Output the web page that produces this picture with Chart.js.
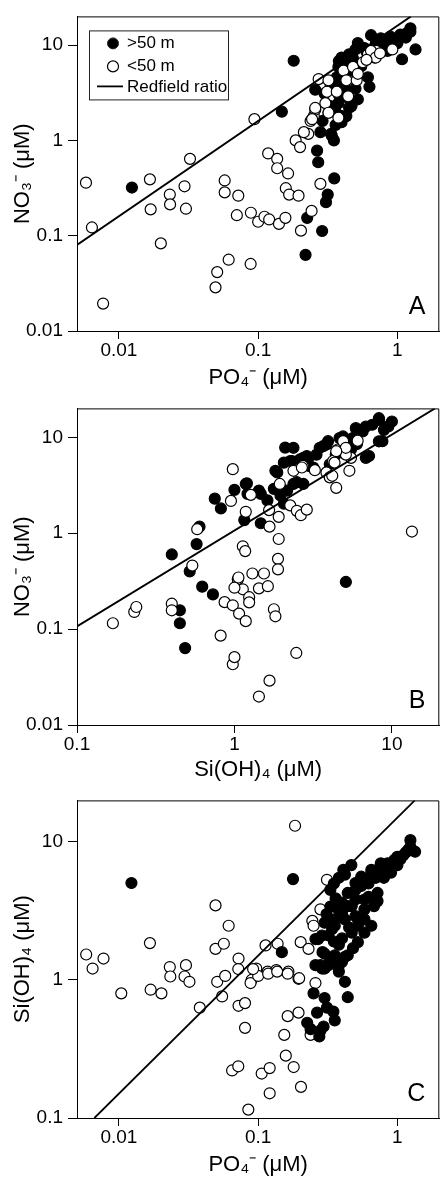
<!DOCTYPE html>
<html>
<head>
<meta charset="utf-8">
<script src="https://cdn.jsdelivr.net/npm/chart.js@4.4.1/dist/chart.umd.min.js"></script>
<style>
html,body{margin:0;padding:0;background:#fff;overflow:hidden;}
#wrap{position:relative;width:441px;height:1178px;overflow:hidden;}
canvas{position:absolute;left:0;}
</style>
</head>
<body>
<div id="wrap">
<canvas id="chartA" width="446" height="392" style="top:0px"></canvas>
<canvas id="chartB" width="446" height="392" style="top:392px"></canvas>
<canvas id="chartC" width="446" height="394" style="top:784px"></canvas>
</div>
<script>
// ---- data: [x, y] pairs ----
// A: PO4 vs NO3
var aDeep = [[0.0124,0.32],[0.148,2.0],[0.18,6.85],[0.257,3.4],[0.265,0.78],[0.27,0.59],[0.338,1.12],[0.352,0.40],
  [0.225,0.154],[0.219,0.063],[0.288,0.112],[0.307,0.225],[0.316,0.27],[0.334,1.17],[0.28,1.22],[0.32,1.95],
  [0.3,3.1],[0.33,2.29],[0.377,2.46],[0.36,1.45],[0.40,1.8],[0.43,1.8],[0.397,1.55],[0.45,2.2],[0.468,2.29],
  [0.52,2.7],[0.5,3.5],[0.63,3.65],[0.357,3.97],[0.34,4.2],[0.367,4.6],[0.614,4.6],[0.42,5.0],[0.377,5.9],
  [0.55,6.0],[0.4,6.5],[0.455,6.6],[0.397,7.4],[0.684,7.4],[0.45,8.0],[0.6,8.5],[0.85,8.7],[0.5,9.0],[0.58,9.3],
  [0.8,10],[0.52,10.5],[0.7,10.5],[0.95,11],[0.76,11.8],[1.15,12],[0.89,12.3],[0.647,12.7],[1.05,12.9],
  [1.17,13.4],[1.24,13.8],[1.24,15],[1.08,7.1],[1.35,9.0],[0.43,3.3],[0.9,9.5],[1.0,10.5],[0.38,6.8],[0.48,7.2],
  [0.36,2.0],[0.38,3.0],[0.41,3.6],[0.46,4.6],[0.35,1.0],[0.29,1.6],[0.33,3.6],[0.44,2.8]];
var aShallow = [[0.0058,0.36],[0.0064,0.122],[0.0077,0.0194],[0.0167,0.39],[0.0169,0.189],[0.02,0.083],[0.0232,0.27],
  [0.0233,0.213],[0.0296,0.33],[0.0303,0.192],[0.0324,0.64],[0.0494,0.0287],[0.0508,0.0415],[0.0575,0.38],
  [0.0575,0.285],[0.0614,0.056],[0.072,0.263],[0.0703,0.164],[0.0883,0.0505],[0.0887,0.174],[0.094,1.67],
  [0.1,0.14],[0.111,0.158],[0.12,0.148],[0.118,0.73],[0.137,0.64],[0.137,0.51],[0.141,0.133],[0.157,0.154],
  [0.158,0.315],[0.164,0.45],[0.167,0.27],[0.186,1.0],[0.195,0.263],[0.2,0.85],[0.203,0.113],[0.229,1.17],
  [0.238,1.6],[0.242,0.182],[0.251,1.8],[0.257,2.1],[0.28,0.35],[0.272,4.4],[0.304,2.46],[0.32,1.95],
  [0.312,3.24],[0.377,1.73],[0.41,5.4],[0.443,4.27],[0.443,2.9],[0.48,5.9],[0.565,6.6],[0.614,7.95],
  [0.703,8.7],[0.92,9.0],[0.684,7.95],[0.646,8.7],[0.7,7.4],[0.43,4.27],[0.51,4.27],[0.367,3.24],[0.32,4.27],
  [0.257,2.19],[0.244,1.67],[0.213,1.22],[0.52,5.0],[0.6,7.0],[0.75,8.2]];

// B: Si(OH)4 vs NO3
var bDeep = [[0.40,0.6],[0.575,0.77],[0.52,0.40],[0.6,1.17],[0.75,2.29],[0.82,1.81],[1.0,2.83],[1.2,3.31],
  [1.18,3.26],[1.155,1.37],[1.47,1.27],[1.47,2.57],[1.21,2.57],[1.43,2.78],[1.62,2.2],[1.78,2.9],[1.96,2.47],
  [2.06,2.03],[2.16,2.78],[2.37,3.26],[2.49,3.4],[2.74,3.26],[1.82,4.47],[1.87,4.3],[2.06,5.44],[2.26,5.66],
  [2.32,5.66],[2.61,5.9],[2.95,6.13],[2.74,6.1],[2.88,6.37],[3.17,4.84],[3.32,6.6],[2.1,7.8],[2.37,7.77],
  [3.48,7.77],[3.66,8.07],[3.84,8.4],[3.93,9.1],[4.03,5.23],[4.65,9.8],[4.89,10.2],[5.64,9.8],[5.9,12.45],
  [6.52,11.5],[6.83,12.9],[6.83,6.1],[7.16,6.37],[7.5,13.5],[8.27,15.8],[8.3,15.2],[8.27,9.08],[8.7,9.1],
  [8.9,11.95],[10,14.6],[5.1,0.31],[0.624,0.277],[0.73,0.23],[0.45,0.157],[0.45,0.115],[0.486,0.0634],
  [4.4,6.6],[5.5,7.5],[6.0,8.5],[9.5,13.0],[3.0,5.0]];
var bShallow = [[0.169,0.115],[0.231,0.151],[0.238,0.17],[0.40,0.184],[0.40,0.157],[0.54,0.46],[0.58,1.1],
  [0.817,0.0855],[0.866,0.191],[0.976,0.177],[1.07,0.145],[1.18,0.121],[0.976,0.043],[1.0,0.051],[1.05,0.33],
  [1.13,0.26],[1.0,0.27],[1.24,0.215],[1.24,0.19],[1.43,0.266],[1.3,0.38],[1.54,0.38],[1.63,0.28],[1.78,0.161],
  [1.82,0.136],[2.47,0.0564],[1.67,0.029],[1.43,0.0198],[1.06,0.345],[1.13,0.73],[1.17,0.65],[1.89,0.54],
  [1.89,0.42],[1.91,0.87],[1.67,1.17],[1.66,1.74],[1.91,1.48],[2.26,1.95],[2.49,1.71],[2.64,1.54],[2.88,1.76],
  [0.976,4.65],[0.95,2.17],[1.27,2.51],[1.18,1.67],[1.94,3.26],[2.37,4.47],[2.72,5.03],[2.68,4.84],[3.24,4.54],
  [3.84,4.3],[4.03,3.82],[4.43,2.97],[4.18,3.97],[4.23,5.66],[4.54,7.46],[5.37,4.47],[5.5,6.1],[6.06,9.2],
  [4.9,9.1],[5.1,6.6],[5.1,7.77],[4.43,7.16],[4.32,5.44],[13.4,1.04]];

// C: PO4 vs Si(OH)4
var cDeep = [[0.0123,5.04],[0.178,5.38],[0.148,1.59],[0.409,6.27],[0.467,6.8],[1.24,10.3],[1.34,8.5],[1.24,9.2],
  [1.2,8.8],[1.1,8.0],[0.998,7.8],[0.95,7.4],[1.0,6.8],[0.85,7.0],[0.76,7.0],[0.74,6.45],[0.65,6.27],[0.65,5.94],
  [0.9,6.0],[0.8,5.5],[0.55,5.6],[0.58,5.3],[0.5,5.04],[0.44,4.27],[0.72,4.27],[0.4,3.63],[0.72,3.73],[0.5,3.83],
  [0.58,3.83],[0.44,3.43],[0.47,3.43],[0.68,3.43],[0.377,3.25],[0.58,3.25],[0.4,3.07],[0.355,2.75],[0.42,2.75],
  [0.52,2.75],[0.58,2.75],[0.355,2.47],[0.52,2.47],[0.65,2.47],[0.34,2.34],[0.47,2.2],[0.58,2.2],[0.287,2.1],
  [0.32,2.1],[0.258,1.98],[0.27,1.98],[0.52,1.88],[0.29,1.59],[0.3,1.55],[0.355,1.51],[0.44,1.51],[0.42,1.47],
  [0.34,1.43],[0.258,1.28],[0.28,1.28],[0.32,1.28],[0.32,1.31],[0.377,1.24],[0.4,1.35],[0.288,1.21],[0.3,1.21],
  [0.38,1.15],[0.42,0.97],[0.25,0.80],[0.44,0.75],[0.3,0.74],[0.265,0.58],[0.312,0.63],[0.347,0.59],
  [0.355,0.51],[0.225,0.49],[0.238,0.44],[0.28,0.43],[0.295,0.46],[0.275,0.39],
  [0.33,4.5],[0.35,5.0],[0.38,5.5],[0.42,5.8],[0.36,3.9],[0.3,2.6],[0.31,3.0],[0.33,3.4],[0.5,4.5],[0.55,4.8],
  [0.62,5.0],[0.7,5.5],[0.78,6.2],[0.88,6.6],[1.05,7.5],[1.15,8.4],[0.62,4.0],[0.5,2.9],[0.45,2.4],[0.38,1.8],
  [0.35,1.9],[0.48,1.7],[0.4,2.0]];
var cShallow = [[0.184,13.1],[0.312,5.32],[0.0494,3.47],[0.0614,2.47],[0.0494,1.68],[0.0567,1.83],[0.0167,1.85],
  [0.00582,1.53],[0.00775,1.43],[0.00647,1.21],[0.0232,1.24],[0.0303,1.28],[0.0723,1.43],[0.113,1.78],[0.138,1.83],
  [0.28,3.25],[0.245,2.68],[0.25,2.47],[0.202,1.88],[0.23,1.68],[0.097,1.21],[0.117,1.15],[0.135,1.18],[0.165,1.15],
  [0.0104,0.80],[0.0169,0.85],[0.0202,0.80],[0.0234,1.06],[0.0296,1.06],[0.0321,0.97],[0.0381,0.63],[0.0508,0.97],
  [0.058,1.07],[0.0551,0.76],[0.0897,1.0],[0.0882,0.95],[0.1,1.07],[0.118,1.11],[0.137,1.15],[0.163,1.11],
  [0.195,1.02],[0.0723,0.65],[0.0805,0.68],[0.0805,0.45],[0.163,0.547],[0.195,0.58],[0.154,0.40],[0.158,0.283],
  [0.18,0.234],[0.065,0.221],[0.072,0.237],[0.106,0.21],[0.121,0.23],[0.121,0.151],[0.203,0.168],[0.085,0.115],
  [0.258,0.95],[0.238,0.40],[0.197,1.03],[0.072,1.2],[0.092,1.2]];

// Redfield ratios
var ratioNP = 16;      // N:P
var ratioNSi = 16/15;  // N:Si
var ratioSiP = 15;     // Si:P

var ticksPO4 = [0.01, 0.1, 1];
var ticksSi = [0.1, 1, 10];
var ticksNO3 = [0.01, 0.1, 1, 10];
var ticksSiY = [0.1, 1, 10];

var legendLabels = ['>50 m', '<50 m', 'Redfield ratio'];

var FONT = '"Liberation Sans", Arial, Helvetica, sans-serif';

function toPts(arr) {
  return arr.map(function (p) { return {x: p[0], y: p[1]}; });
}

// line y = r*x clipped to the axis box
function ratioLine(r, xmin, xmax, ymin, ymax) {
  var x0 = Math.max(xmin, ymin / r), x1 = Math.min(xmax, ymax / r);
  return [{x: x0, y: r * x0}, {x: x1, y: r * x1}];
}

var framePlugin = {
  id: 'frame',
  afterDraw: function (chart) {
    var a = chart.chartArea, ctx = chart.ctx;
    ctx.save();
    ctx.strokeStyle = '#000';
    ctx.lineWidth = 1;
    ctx.beginPath();
    ctx.moveTo(a.left, a.top + 0.5);
    ctx.lineTo(a.right - 0.5, a.top + 0.5);
    ctx.lineTo(a.right - 0.5, a.bottom);
    ctx.stroke();
    ctx.font = '25px ' + FONT;
    ctx.fillStyle = '#000';
    ctx.textAlign = 'right';
    ctx.textBaseline = 'alphabetic';
    ctx.fillText(chart.options.plugins.frame.letter, a.right - 14, a.bottom - 17);
    ctx.restore();
  }
};

var boxLegend = {
  id: 'boxLegend',
  afterDraw: function (chart) {
    if (!chart.options.plugins.boxLegend.show) return;
    var a = chart.chartArea, ctx = chart.ctx;
    var x = a.left + 12, y = a.top + 14;
    ctx.save();
    ctx.strokeStyle = '#222';
    ctx.lineWidth = 1;
    ctx.strokeRect(x + 0.5, y + 0.5, 139, 69);
    ctx.font = '17px ' + FONT;
    ctx.fillStyle = '#000';
    ctx.textBaseline = 'middle';
    ctx.textAlign = 'left';
    // >50 m
    ctx.beginPath(); ctx.arc(x + 24, y + 13, 5.5, 0, Math.PI * 2);
    ctx.fillStyle = '#000'; ctx.fill(); ctx.stroke();
    ctx.fillText(legendLabels[0], x + 38, y + 13);
    // <50 m
    ctx.beginPath(); ctx.arc(x + 24, y + 36, 5.5, 0, Math.PI * 2);
    ctx.fillStyle = '#fff'; ctx.fill(); ctx.strokeStyle = '#000'; ctx.lineWidth = 1.2; ctx.stroke();
    ctx.fillStyle = '#000';
    ctx.fillText(legendLabels[1], x + 38, y + 36);
    // line
    ctx.lineWidth = 1.8;
    ctx.beginPath(); ctx.moveTo(x + 8, y + 56); ctx.lineTo(x + 34, y + 56); ctx.stroke();
    ctx.fillText(legendLabels[2], x + 38, y + 57);
    ctx.restore();
  }
};

function panel(id, o) {
  var tickFont = {family: FONT, size: 19};
  var titleFont = {family: FONT, size: 22};
  var deepSet = {label: legendLabels[0], data: toPts(o.deep), pointRadius: 5.5,
    pointBackgroundColor: '#000', pointBorderColor: '#000', pointBorderWidth: 1.2, order: o.blackTop ? 1 : 2};
  var shallowSet = {label: legendLabels[1], data: toPts(o.shallow), pointRadius: 5.5,
    pointBackgroundColor: '#fff', pointBorderColor: '#000', pointBorderWidth: 1.2, order: o.blackTop ? 2 : 1};
  var lineSet = {label: legendLabels[2], data: o.line, showLine: true, borderColor: '#000',
    borderWidth: 1.8, pointRadius: 0, order: 0};
  return new Chart(document.getElementById(id), {
    type: 'scatter',
    data: {datasets: [deepSet, shallowSet, lineSet]},
    options: {
      responsive: false,
      animation: false,
      layout: {padding: {top: o.padTop, right: 1, left: 0, bottom: 0}},
      plugins: {legend: {display: false}, tooltip: {enabled: false},
        frame: {letter: o.letter}, boxLegend: {show: !!o.legend}},
      scales: {
        x: {
          type: 'logarithmic', min: o.xmin, max: o.xmax,
          afterFit: function (s) { s.height = o.xh; },
          afterBuildTicks: function (s) { s.ticks = o.xticks.map(function (v) { return {value: v}; }); },
          ticks: {callback: function (v) { return String(v); }, font: tickFont, color: '#000',
            padding: 0, autoSkip: false, maxRotation: 0},
          grid: {drawOnChartArea: false, drawTicks: true, tickLength: 8, color: '#000'},
          border: {display: true, color: '#000', width: 1},
          title: {display: true, text: o.xtitle, font: titleFont, color: '#000', padding: {top: 0, bottom: o.xtpb}}
        },
        y: {
          type: 'logarithmic', min: o.ymin, max: o.ymax,
          afterFit: function (s) { s.width = 77; },
          afterBuildTicks: function (s) { s.ticks = o.yticks.map(function (v) { return {value: v}; }); },
          ticks: {callback: function (v) { return String(v); }, font: tickFont, color: '#000',
            padding: 5, autoSkip: false},
          grid: {drawOnChartArea: false, drawTicks: true, tickLength: 9, color: '#000'},
          border: {display: true, color: '#000', width: 1},
          title: {display: true, text: o.ytitle, font: titleFont, color: '#000', padding: {top: 10, bottom: 0}}
        }
      }
    },
    plugins: [framePlugin, boxLegend]
  });
}

panel('chartA', {deep: aDeep, shallow: aShallow, line: ratioLine(ratioNP, 0.005, 2, 0.01, 20),
  xmin: 0.005, xmax: 2, ymin: 0.01, ymax: 20, xticks: ticksPO4, yticks: ticksNO3,
  xtitle: 'PO\u2084\u207B (\u03BCM)', ytitle: 'NO\u2083\u207B (\u03BCM)',
  padTop: 8, xh: 61, xtpb: 1, letter: 'A', legend: true, blackTop: false});

panel('chartB', {deep: bDeep, shallow: bShallow, line: ratioLine(ratioNSi, 0.1, 20, 0.01, 20),
  xmin: 0.1, xmax: 20, ymin: 0.01, ymax: 20, xticks: ticksSi, yticks: ticksNO3,
  xtitle: 'Si(OH)\u2084 (\u03BCM)', ytitle: 'NO\u2083\u207B (\u03BCM)',
  padTop: 11, xh: 59, xtpb: 1, letter: 'B', blackTop: false});

panel('chartC', {deep: cDeep, shallow: cShallow, line: ratioLine(ratioSiP, 0.005, 2, 0.1, 20),
  xmin: 0.005, xmax: 2, ymin: 0.1, ymax: 20, xticks: ticksPO4, yticks: ticksSiY,
  xtitle: 'PO\u2084\u207B (\u03BCM)', ytitle: 'Si(OH)\u2084 (\u03BCM)',
  padTop: 13, xh: 60, xtpb: 0, letter: 'C', blackTop: true});
</script>
</body>
</html>
